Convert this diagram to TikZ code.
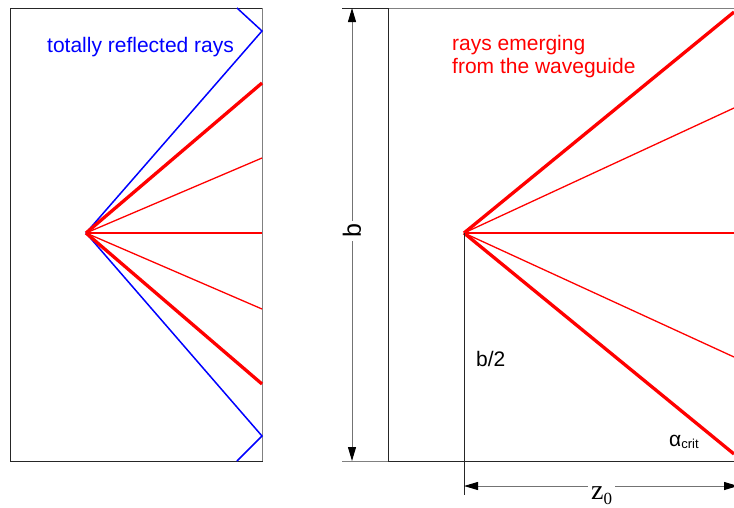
\documentclass[tikz,border=0pt]{standalone}
\usepackage{fontspec}
\setmainfont{Liberation Sans}
\newfontfamily\serifz{Liberation Serif}
\usetikzlibrary{arrows.meta}
\begin{document}
\begin{tikzpicture}[x=1pt,y=-1pt,
  box/.style={draw=black!85, line width=0.9pt},
  grayline/.style={draw=black!50, line width=1pt},
  thinray/.style={draw=red, line width=1.3pt},
  thickray/.style={draw=red, line width=3.3pt},
  blueray/.style={draw=blue, line width=1.5pt},
  dimline/.style={draw=black!55, line width=1pt,
    {Triangle[length=14pt,width=8pt,color=black]}-{Triangle[length=14pt,width=8pt,color=black]}},
  lab/.style={inner sep=0pt, font=\fontsize{21}{23}\selectfont},
]
\clip (0,0) rectangle (734,507);
\fill[white] (0,0) rectangle (734,507);

% left waveguide
\draw[box] (10,8) rectangle (262,461);
\draw[grayline] (262,8) -- (262,461);
\coordinate (S1) at (86,233);
\coordinate (LB1) at (262,31);
\coordinate (LB2) at (262,436);
\coordinate (LBt) at (237,8);
\coordinate (LBb) at (237,461);
\coordinate (LK1) at (262,83);
\coordinate (LK2) at (262,384);
\coordinate (LT1) at (262,158);
\coordinate (LT0) at (262,233);
\coordinate (LT2) at (262,309);
\draw[blueray] (S1) -- (LB1) -- (LBt);
\draw[blueray] (S1) -- (LB2) -- (LBb);
\draw[thinray] (S1) -- (LT1);
\draw[thinray] (S1) -- (LT0);
\draw[thinray] (S1) -- (LT2);
\draw[thickray] (S1) -- (LK1);
\draw[thickray] (S1) -- (LK2);
\node[lab, text=blue, anchor=base west] (trr) at (47,52) {totally reflected rays};

% right part
\draw[grayline] (388,8) -- (740,8);
\draw[box] (388,8) -- (388,461) -- (740,461);
\draw[box] (342,8) -- (388,8);
\draw[grayline] (342,461) -- (388,461);
\coordinate (S2) at (464,233);
\coordinate (RK1) at (734,12);
\coordinate (RK2) at (734,454);
\coordinate (RT1) at (734,108);
\coordinate (RT0) at (734,233);
\coordinate (RT2) at (734,357);
\draw[thinray] (S2) -- (RT1);
\draw[thinray] (S2) -- (RT0);
\draw[thinray] (S2) -- (RT2);
\draw[thickray] (S2) -- (RK1);
\draw[thickray] (S2) -- (RK2);
\node[lab, text=red, anchor=base west] (rem1) at (452,50) {rays emerging};
\node[lab, text=red, anchor=base west] (rem2) at (452,73) {from the waveguide};

% b dimension
\coordinate (bt) at (352,8);
\coordinate (bb) at (352,461);
\draw[dimline] (bt) -- (bb);
\node[fill=white, inner sep=3pt, rotate=90, font=\fontsize{25}{25}\selectfont] (blab) at (352,231) {b};

% b/2 and z0
\coordinate (zv) at (464,495);
\draw[box] (S2) -- (zv);
\node[lab, anchor=base west] (bhalf) at (476,366) {b/2};
\coordinate (zl) at (464,486);
\coordinate (zr) at (738,486);
\draw[dimline] (zl) -- (zr);
\node[fill=white, inner sep=3pt, anchor=base west] (zlab) at (588,499)
  {\serifz\fontsize{28}{28}\selectfont z\raisebox{-0.2em}{\fontsize{17}{17}\selectfont 0}};
\node[lab, anchor=base west] (acrit) at (669,446)
  {α\raisebox{-0.1em}{\fontsize{13}{13}\selectfont crit}};
\end{tikzpicture}
\end{document}
